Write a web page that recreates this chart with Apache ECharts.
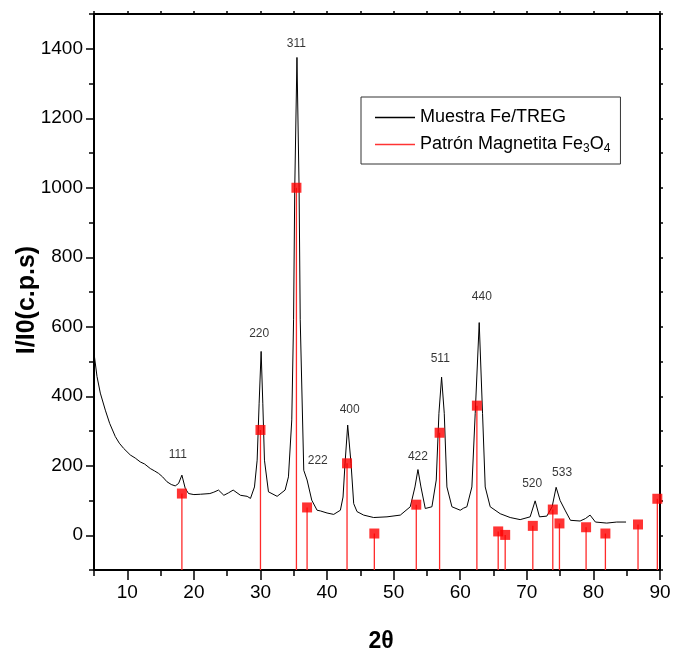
<!DOCTYPE html>
<html>
<head>
<meta charset="utf-8">
<script src="https://cdn.jsdelivr.net/npm/echarts@6/dist/echarts.min.js"></script>
<style>html,body{margin:0;padding:0;background:#fff;}#c{width:673px;height:653px;}</style>
</head>
<body>
<div id="c"></div>
<script>
// Experimental pattern (Muestra Fe/TREG)
const sampleX = [5.0,5.45,5.95,6.7,7.35,8.2,8.8,9.45,10.45,11.2,11.95,12.6,13.45,14.1,14.7,15.3,15.96,16.6,17.2,17.7,18.2,18.7,19.2,20.0,21.0,22.4,23.0,23.7,24.5,25.2,25.9,27.0,28.0,28.5,29.1,29.5,29.8,30.1,30.35,30.6,31.2,32.5,33.7,34.2,34.7,34.97,35.15,35.48,35.8,35.97,36.5,37.0,37.7,38.5,39.0,40.0,41.0,42.0,42.4,42.7,43.1,43.6,44.0,44.5,45.5,47.0,49.0,51.0,52.5,53.2,53.65,54.1,54.75,55.75,56.4,56.8,57.2,57.6,58.0,58.75,60.0,60.5,61.0,61.75,62.25,62.85,63.35,63.75,64.5,66.0,67.5,69.0,70.5,71.25,71.9,73.0,73.8,74.4,75.0,75.8,76.55,78.0,78.8,79.5,80.3,82.0,83.5,84.9];
const sampleY = [524,457,409,360,322,284,265,250,231,222,211,205,192,185,178,168,154,146,142,149,173,135,120,117,118,120,124,130,115,122,130,115,112,106,139,216,380,529,380,216,125,112,130,168,332,620,1000,1375,1000,620,187,159,101,72,70,64,60,72,110,207,317,207,91,68,58,51,53,58,82,139,189,139,77,82,159,351,455,351,139,82,72,78,82,139,351,612,351,139,82,62,51,45,53,99,53,55,82,138,100,70,43,41,48,58,38,35,38,38];

// Reference pattern (Patrón Magnetita Fe3O4)
const refX = [18.2,30.0,35.4,37.0,43.0,47.1,53.4,56.9,62.5,65.7,66.75,70.9,73.9,74.9,78.9,81.8,86.7,89.6];
const refY = [120,303,1000,80,207,5,88,295,373,11,1,27,74,34,23,5,31,105];

// Miller index labels
const hklText = ['111','220','311','222','400','422','511','440','520','533'];
const hklX = [17.6,29.8,35.4,38.6,43.4,53.65,57.0,63.25,70.8,75.3];
const hklY = [231,580,1415,216,360,226,507,687,147,181];

const xTicks = [10,20,30,40,50,60,70,80,90];
const yTicks = [0,200,400,600,800,1000,1200,1400];
const X_MIN = 5, X_MAX = 90, Y_MIN = -100, Y_MAX = 1500;

const FONT = "'Liberation Sans', Arial, sans-serif";
const sampleData = sampleX.map((x, i) => [x, sampleY[i]]);
const refData = refX.map((x, i) => [x, refY[i]]);
const hklData = hklX.map((x, i) => ({ name: hklText[i], value: [x, hklY[i]] }));

const axisLine = { show: true, onZero: false, lineStyle: { color: '#000', width: 2 } };
const noLine = { show: false, onZero: false };
const chart = echarts.init(document.getElementById('c'));
chart.setOption({
  animation: false,
  backgroundColor: '#fff',
  grid: { left: 94, right: 13, top: 14, bottom: 83, containLabel: false, outerBoundsMode: 'none' },
  legend: {
    orient: 'vertical', left: 361, top: 97,
    padding: [10, 10, 9, 14], itemGap: 6,
    borderColor: '#333', borderWidth: 1,
    icon: 'rect', itemWidth: 40, itemHeight: 1.5,
    data: ['Muestra Fe/TREG', 'Patrón Magnetita Fe3O4'],
    formatter: n => n === 'Patrón Magnetita Fe3O4' ? 'Patrón Magnetita Fe{sub|3}O{sub|4}' : n,
    textStyle: {
      fontFamily: FONT, fontSize: 18, color: '#000', lineHeight: 21,
      rich: { sub: { fontFamily: FONT, fontSize: 12, verticalAlign: 'bottom', padding: [12, 0, 0, 0], color: '#000' } }
    }
  },
  xAxis: [
    { type: 'value', position: 'bottom', min: X_MIN, max: X_MAX, interval: 5,
      axisLine, splitLine: { show: false },
      axisTick: { show: true, length: 6, lineStyle: { color: '#000', width: 1.5 } },
      axisLabel: { customValues: xTicks, formatter: v => String(v), fontFamily: FONT, fontSize: 19, color: '#000', margin: 13 },
      name: '2θ', nameLocation: 'middle', nameGap: 60, nameMoveOverlap: false,
      nameTextStyle: { fontFamily: FONT, fontSize: 23, fontWeight: 'bold', color: '#000', padding: [0, 0, 0, 8] } },
    { type: 'value', position: 'bottom', min: X_MIN, max: X_MAX,
      axisLine: noLine, splitLine: { show: false }, axisLabel: { show: false },
      axisTick: { show: true, customValues: xTicks, length: 10, lineStyle: { color: '#000', width: 1.5 } } },
    { type: 'value', position: 'top', min: X_MIN, max: X_MAX, interval: 5,
      axisLine, splitLine: { show: false }, axisLabel: { show: false },
      axisTick: { show: true, length: 3, lineStyle: { color: '#000', width: 1.5 } } }
  ],
  yAxis: [
    { type: 'value', position: 'left', min: Y_MIN, max: Y_MAX, interval: 100,
      axisLine, splitLine: { show: false },
      axisTick: { show: true, length: 5, lineStyle: { color: '#000', width: 1.5 } },
      axisLabel: { customValues: yTicks, formatter: v => String(v), fontFamily: FONT, fontSize: 19, color: '#000', margin: 11 },
      name: 'I/I0(c.p.s)', nameLocation: 'middle', nameGap: 54, nameRotate: 90, nameMoveOverlap: false,
      nameTextStyle: { fontFamily: FONT, fontSize: 25, fontWeight: 'bold', color: '#000', padding: [0, 16, 0, 0] } },
    { type: 'value', position: 'left', min: Y_MIN, max: Y_MAX,
      axisLine: noLine, splitLine: { show: false }, axisLabel: { show: false },
      axisTick: { show: true, customValues: yTicks, length: 8, lineStyle: { color: '#000', width: 1.5 } } },
    { type: 'value', position: 'right', min: Y_MIN, max: Y_MAX, interval: 100,
      axisLine, splitLine: { show: false }, axisLabel: { show: false },
      axisTick: { show: true, length: 3, lineStyle: { color: '#000', width: 1.5 } } }
  ],
  series: [
    { name: 'Muestra Fe/TREG', type: 'line', xAxisIndex: 0, yAxisIndex: 0,
      data: sampleData, showSymbol: false, symbol: 'none', color: '#000',
      lineStyle: { color: '#000', width: 1 }, z: 2 },
    { name: 'sticks', type: 'custom', xAxisIndex: 0, yAxisIndex: 0, data: refData, z: 3,
      renderItem: (params, api) => {
        const top = api.coord([api.value(0), api.value(1)]);
        const bot = api.coord([api.value(0), Y_MIN]);
        return { type: 'line', shape: { x1: top[0], y1: top[1], x2: bot[0], y2: bot[1] },
                 style: { stroke: '#ff2a2a', lineWidth: 1.3 } };
      } },
    { name: 'Patrón Magnetita Fe3O4', type: 'scatter', xAxisIndex: 0, yAxisIndex: 0,
      data: refData, symbol: 'rect', symbolSize: 10, color: '#ff0000',
      itemStyle: { color: '#ff0000' }, z: 4 },
    { name: 'hkl', type: 'scatter', xAxisIndex: 0, yAxisIndex: 0, data: hklData,
      symbolSize: 0, silent: true, z: 5,
      label: { show: true, position: 'inside', formatter: '{b}', fontFamily: FONT, fontSize: 12, color: '#000' } }
  ]
});
</script>
</body>
</html>
